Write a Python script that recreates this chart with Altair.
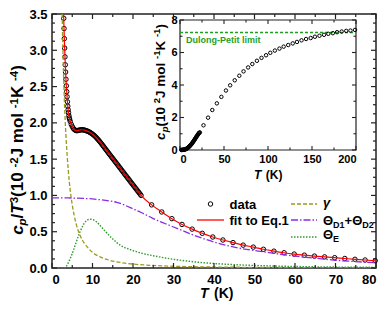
import altair as alt
import pandas as pd

# ---------------- main panel data (c_p/T^3, 10^-2 J mol^-1 K^-4) ----------------
T_dense = [2.90, 2.97, 3.04, 3.12, 3.20, 3.28, 3.36, 3.45, 3.54, 3.63, 3.72, 3.81, 3.90, 3.99,
           4.08, 4.17, 4.26, 4.35,
           4.50, 4.75, 5.00, 5.25, 5.50, 5.75, 6.00, 6.25, 6.50, 6.75, 7.00, 7.25, 7.50, 7.75,
           8.00, 8.25, 8.50, 8.75, 9.00, 9.25, 9.50, 9.75, 10.00, 10.25, 10.50, 10.75, 11.00,
           11.25, 11.50, 11.75, 12.00, 12.25, 12.50, 12.75, 13.00, 13.25, 13.50, 13.75, 14.00,
           14.25, 14.50, 14.75, 15.00, 15.25, 15.50, 15.75, 16.00, 16.25, 16.50, 16.75, 17.00,
           17.25, 17.50, 17.75, 18.00, 18.25, 18.50, 18.75, 19.00, 19.25, 19.50, 19.75, 20.00,
           20.25, 20.50, 20.75, 21.00, 21.25, 21.50, 21.75, 22.00]
v_dense = [3.44, 3.30, 3.16, 3.03, 2.91, 2.80, 2.70, 2.60, 2.51, 2.43, 2.36, 2.29, 2.23, 2.18,
           2.14, 2.10, 2.07, 2.05,
           2.02, 1.98, 1.95, 1.925, 1.908, 1.898, 1.893, 1.893, 1.896, 1.900, 1.903, 1.905, 1.905, 1.903,
           1.900, 1.896, 1.891, 1.886, 1.880, 1.873, 1.864, 1.855, 1.845, 1.834, 1.822, 1.808, 1.793,
           1.778, 1.762, 1.745, 1.728, 1.710, 1.692, 1.674, 1.655, 1.637, 1.618, 1.600, 1.581,
           1.563, 1.545, 1.527, 1.509, 1.491, 1.473, 1.455, 1.437, 1.419, 1.400, 1.382, 1.364,
           1.345, 1.327, 1.309, 1.290, 1.272, 1.254, 1.236, 1.218, 1.199, 1.181, 1.163, 1.145,
           1.127, 1.109, 1.091, 1.073, 1.055, 1.037, 1.019, 1.000]
T_sparse = [24.6, 27.1, 29.6, 32.1, 34.6, 37.1, 39.7, 42.2, 44.7, 47.2, 49.7, 52.2, 54.8, 57.3,
            59.8, 62.3, 64.8, 67.3, 69.8, 72.3, 74.8, 77.3, 79.8]
v_sparse = [0.870, 0.772, 0.680, 0.600, 0.536, 0.478, 0.427, 0.386, 0.350, 0.315, 0.288, 0.258,
            0.232, 0.210, 0.192, 0.177, 0.164, 0.153, 0.142, 0.131, 0.120, 0.110, 0.100]

T_fit = [2.86, 2.97, 3.12, 3.28, 3.45, 3.63, 3.81, 3.99, 4.17, 4.35, 4.5, 4.75, 5.0, 5.5, 6.0, 6.5,
         7.0, 7.5, 8.0, 8.5, 9.0, 9.5, 10, 11, 12, 13, 14, 15, 16, 17, 18, 19, 20, 21, 22,
         24.6, 27.1, 29.6, 32.1, 34.6, 37.1, 39.7, 42.2, 44.7, 47.2, 49.7, 52.2, 54.8, 57.3,
         59.8, 62.3, 64.8, 67.3, 69.8, 72.3, 74.8, 77.3, 80.0]
v_fit = [3.50, 3.30, 3.03, 2.80, 2.60, 2.43, 2.29, 2.18, 2.10, 2.05, 2.02, 1.98, 1.95, 1.908, 1.893, 1.896,
         1.903, 1.905, 1.900, 1.891, 1.880, 1.864, 1.845, 1.793, 1.728, 1.655, 1.581, 1.509, 1.437,
         1.364, 1.290, 1.218, 1.145, 1.073, 1.000,
         0.870, 0.772, 0.680, 0.600, 0.536, 0.478, 0.427, 0.386, 0.350, 0.315, 0.288, 0.258,
         0.232, 0.210, 0.192, 0.177, 0.164, 0.153, 0.142, 0.131, 0.120, 0.110, 0.098]

T_gamma = [2.5, 2.7, 3.0, 3.2, 3.5, 4.0, 4.5, 5.0, 5.5, 6.0, 7.0, 8.0, 9.0, 10, 11, 12, 14, 16,
           18, 20, 25, 30, 40, 50, 60, 70, 80]
v_gamma = [3.50, 3.00, 2.40, 2.10, 1.77, 1.36, 1.07, 0.87, 0.72, 0.60, 0.44, 0.34, 0.27, 0.215,
           0.178, 0.150, 0.110, 0.085, 0.067, 0.054, 0.035, 0.024, 0.0135, 0.0087, 0.006, 0.0044, 0.0034]

T_debye = [0, 2, 4, 6, 8, 10, 12, 14, 16, 18, 20, 22, 24, 26, 28, 30, 32, 34, 36, 38, 40, 42,
           44, 46, 48, 50, 52, 55, 60, 65, 70, 75, 80]
v_debye = [0.965, 0.965, 0.965, 0.962, 0.958, 0.952, 0.940, 0.925, 0.905, 0.865, 0.815, 0.765,
           0.710, 0.655, 0.610, 0.565, 0.520, 0.475, 0.432, 0.393, 0.358, 0.327, 0.300, 0.276,
           0.256, 0.240, 0.225, 0.200, 0.163, 0.135, 0.107, 0.088, 0.072]

T_einst = [0, 3.0, 3.5, 4.0, 4.5, 5.0, 5.5, 6.0, 6.5, 7.0, 7.5, 8.0, 8.5, 9.0, 9.5, 10, 10.5, 11,
           12, 13, 14, 15, 16, 17, 18, 19, 20, 22, 24, 26, 28, 30, 33, 36, 40, 45, 50, 55, 60, 70, 80]
v_einst = [0, 0, 0.02, 0.07, 0.13, 0.20, 0.28, 0.36, 0.44, 0.51, 0.57, 0.62, 0.65, 0.668, 0.672,
           0.668, 0.655, 0.635, 0.580, 0.515, 0.455, 0.400, 0.350, 0.310, 0.280, 0.260, 0.240,
           0.205, 0.180, 0.158, 0.138, 0.120, 0.098, 0.080, 0.062, 0.046, 0.035, 0.027, 0.021,
           0.013, 0.009]

# ---------------- inset data (c_p, 10^2 J mol^-1 K^-1) ----------------
Ti_dense = [1.5, 2.0, 2.5, 3.0, 3.5, 4.0, 4.5, 5.0, 5.5, 6.0, 6.5, 7.0, 7.5, 8.0, 8.5, 9.0, 9.5,
            10, 10.5, 11, 11.5, 12, 12.5, 13, 13.5, 14, 14.5, 15, 15.5, 16, 16.5, 17, 17.5, 18,
            18.5, 19, 19.5, 20, 20.5, 21, 21.5, 22]
ci_dense = [0.001, 0.004, 0.007, 0.009, 0.011, 0.014, 0.018, 0.024, 0.032, 0.041, 0.052, 0.065,
            0.080, 0.097, 0.115, 0.137, 0.160, 0.184, 0.210, 0.237, 0.266, 0.297, 0.330, 0.362,
            0.395, 0.434, 0.470, 0.510, 0.550, 0.590, 0.630, 0.673, 0.716, 0.758, 0.800, 0.843,
            0.880, 0.924, 0.960, 1.000, 1.040, 1.065]
Ti_sparse = [22.6, 26.7, 31.9, 36.7, 41.9, 47.0, 52.2, 57.0, 62.2, 67.4, 72.2, 77.4, 82.2, 87.4,
             92.6, 97.8, 102.6, 107.8, 113.0, 117.8, 123.0, 128.1, 132.9, 138.1, 143.3, 148.5,
             153.3, 158.5, 163.7, 168.5, 173.7, 178.5, 183.7, 188.9, 193.7, 198.9]
ci_sparse = [1.08, 1.52, 1.99, 2.46, 2.87, 3.27, 3.66, 3.98, 4.29, 4.57, 4.84, 5.08, 5.29, 5.49,
             5.67, 5.83, 5.98, 6.12, 6.24, 6.36, 6.46, 6.56, 6.65, 6.75, 6.83, 6.89, 6.97, 7.03,
             7.09, 7.15, 7.19, 7.25, 7.29, 7.33, 7.35, 7.39]
DP_limit = 7.23

# tick positions
x_major = [0, 10, 20, 30, 40, 50, 60, 70, 80]
x_minor = [5, 15, 25, 35, 45, 55, 65, 75]
y_major = [0, 0.5, 1.0, 1.5, 2.0, 2.5, 3.0, 3.5]
y_minor = [i * 0.125 for i in range(29) if i % 4]
xi_major = [0, 50, 100, 150, 200]
xi_minor = [25, 75, 125, 175]
yi_major = [0, 2, 4, 6, 8]
yi_minor = [1, 3, 5, 7]

# ---------------- geometry / styles ----------------
W, H = 324, 254
IL, IR, IT, IB = 128, 304, 6, 136     # inset box in plot pixels
FONT = "Liberation Sans"
AX = "#222222"
RED = "#ff0000"
OLIVE = "#9a9a1e"
PURPLE = "#8a2be2"
GREEN = "#2e9a2e"
DPGREEN = "#1f9e1f"
ONE = pd.DataFrame({"k": [0]})

lab = dict(labelFont=FONT, labelFontWeight="bold", labelColor="black")
xm_axis = alt.Axis(values=x_major, ticks=False, domain=False, grid=False, labelPadding=5,
                   title=None, labelFontSize=13, orient="bottom", **lab)
ym_axis = alt.Axis(values=y_major, format=".1f", ticks=False, domain=False, grid=False,
                   labelPadding=5, title=None, labelFontSize=13, orient="left", **lab)
xsc = alt.Scale(domain=[0, 80], nice=False, zero=False)
ysc = alt.Scale(domain=[0, 3.5], nice=False, zero=False)


def XM(f="T"):
    return alt.X(f + ":Q", scale=xsc, axis=xm_axis)


def YM(f="v"):
    return alt.Y(f + ":Q", scale=ysc, axis=ym_axis)


xi_axis = alt.Axis(values=xi_major, ticks=False, domain=False, grid=False, labelPadding=3,
                   title=None, labelFontSize=11, orient="bottom", offset=-(H - IB), **lab)
yi_axis = alt.Axis(values=yi_major, ticks=False, domain=False, grid=False, labelPadding=3,
                   title=None, labelFontSize=11, orient="left", offset=-IL, **lab)
xisc = alt.Scale(domain=[0, 200], range=[IL, IR], nice=False, zero=False)
yisc = alt.Scale(domain=[0, 8], range=[IB, IT], nice=False, zero=False)


def XI(f="T"):
    return alt.X(f + ":Q", scale=xisc, axis=xi_axis)


def YI(f="c"):
    return alt.Y(f + ":Q", scale=yisc, axis=yi_axis)


WID = {' ': 278, '\u00a0': 278, '(': 333, ')': 333, '/': 278, '-': 333, '+': 584, '.': 278,
       'c': 556, 'p': 611, 'T': 611, 'J': 556, 'm': 889, 'o': 611, 'l': 278, 'K': 722,
       'D': 722, 'E': 667, 'Θ': 778, 'γ': 556, 'd': 611, 'a': 556, 't': 333, 'f': 333,
       'i': 278, 'q': 611}


def text_width(s, size):
    return sum(WID.get(ch, 556) for ch in s) * size / 1000.0


def seg_layers(segs, x0, y0, rotate=False, color="black", weight="bold"):
    out = []
    pos = 0.0
    for seg in segs:
        s, size, italic, shift = seg[:4]
        pos += seg[4] if len(seg) > 4 else 0.0
        if rotate:
            x, y = x0 + shift, y0 - pos
        else:
            x, y = x0 + pos, y0 + shift
        kw = dict(font=FONT, fontSize=size, fontWeight=weight,
                  fontStyle="italic" if italic else "normal", color=color,
                  align="left", baseline="alphabetic")
        if rotate:
            kw["angle"] = 270
        out.append(alt.Chart(ONE).mark_text(**kw).encode(
            text=alt.value(s), x=alt.value(x), y=alt.value(y)))
        pos += text_width(s, size)
    return out


def total(segs):
    return sum(text_width(sg[0], sg[1]) + (sg[4] if len(sg) > 4 else 0) for sg in segs)


# ---------------- main layers ----------------
main_layers = []
main_layers.append(
    alt.Chart(pd.DataFrame({"T": T_dense + T_sparse, "v": v_dense + v_sparse}))
    .mark_point(shape="circle", filled=False, color="black", size=20, strokeWidth=1, opacity=1)
    .encode(x=XM(), y=YM()))


def line(T, v, color, dash=None, width=1.3):
    kw = dict(color=color, strokeWidth=width, interpolate="monotone", clip=True)
    if dash:
        kw["strokeDash"] = dash
    return alt.Chart(pd.DataFrame({"T": T, "v": v})).mark_line(**kw).encode(x=XM(), y=YM())


main_layers.append(line(T_gamma, v_gamma, OLIVE, [4, 2]))
main_layers.append(line(T_debye, v_debye, PURPLE, [7, 2, 1.5, 2]))
main_layers.append(line(T_einst, v_einst, GREEN, [1.5, 1.5], 1.4))
main_layers.append(line(T_fit, v_fit, RED, None, 1.2))

# main ticks (inward, on all four sides)
for vals, L in ((x_major, 5), (x_minor, 3)):
    d = pd.DataFrame({"T": vals})
    main_layers.append(alt.Chart(d).mark_rule(color=AX, strokeWidth=1.2).encode(
        x=XM(), y=alt.value(H), y2=alt.value(H - L)))
    main_layers.append(alt.Chart(d).mark_rule(color=AX, strokeWidth=1.2).encode(
        x=XM(), y=alt.value(0), y2=alt.value(L)))
for vals, L in ((y_major, 5), (y_minor, 3)):
    d = pd.DataFrame({"v": vals})
    main_layers.append(alt.Chart(d).mark_rule(color=AX, strokeWidth=1.2).encode(
        y=YM(), x=alt.value(0), x2=alt.value(L)))
    main_layers.append(alt.Chart(d).mark_rule(color=AX, strokeWidth=1.2).encode(
        y=YM(), x=alt.value(W), x2=alt.value(W - L)))

# main y title
S, s = 17, 11.5
SUP = -5.5
ytitle = [("c", S, True, 0), ("p", s, True, 3.4), ("/", S, False, 0), ("T", S, True, 0),
          ("3", s, False, SUP), (" (10", S, False, 0), ("-2", s, False, SUP),
          (" J mol", S, False, 0), ("-1", s, False, SUP), (" K", S, False, 0),
          ("-4", s, False, SUP), (")", S, False, 0)]
main_layers += seg_layers(ytitle, -29, 136 + total(ytitle) / 2, rotate=True)
# main x title
main_layers += seg_layers([("T", 14, True, 0), ("(K)", 14, False, 0, 5.5)], 148, 284)

# legend
R1, R2, R3 = 190, 206, 223
LX1, LX2, LT1 = 145, 172, 177.5
LX3, LX4, LT2 = 239, 265, 271
main_layers.append(alt.Chart(ONE).mark_point(shape="circle", filled=False, color="black",
                                              size=20, strokeWidth=1, opacity=1).encode(
    x=alt.value((LX1 + LX2) / 2), y=alt.value(R1)))
main_layers.append(alt.Chart(ONE).mark_rule(color=RED, strokeWidth=1.3).encode(
    x=alt.value(LX1), x2=alt.value(LX2), y=alt.value(R2)))
main_layers.append(alt.Chart(ONE).mark_rule(color=OLIVE, strokeWidth=1.3, strokeDash=[4, 2]).encode(
    x=alt.value(LX3), x2=alt.value(LX4), y=alt.value(R1)))
main_layers.append(alt.Chart(ONE).mark_rule(color=PURPLE, strokeWidth=1.3,
                                             strokeDash=[7, 2, 1.5, 2]).encode(
    x=alt.value(LX3), x2=alt.value(LX4), y=alt.value(R2)))
main_layers.append(alt.Chart(ONE).mark_rule(color=GREEN, strokeWidth=1.4,
                                             strokeDash=[1.5, 1.5]).encode(
    x=alt.value(LX3), x2=alt.value(LX4), y=alt.value(R3)))
main_layers += seg_layers([("data", 13, False, 0)], LT1, R1 + 4.5)
main_layers += seg_layers([("fit to Eq.1", 13, False, 0)], LT1, R2 + 4.5)
main_layers += seg_layers([("γ", 13, True, 0)], LT2, R1 + 3)
main_layers += seg_layers([("Θ", 13, False, 0), ("D1", 9, False, 3), ("+", 13, False, 0),
                           ("Θ", 13, False, 0), ("D2", 9, False, 3)], LT2, R2 + 4.5)
main_layers += seg_layers([("Θ", 13, False, 0), ("E", 9, False, 3)], LT2, R3 + 2)

main = alt.layer(*main_layers)

# ---------------- inset layers ----------------
inset_layers = []
inset_layers.append(alt.Chart(pd.DataFrame({"T": [0], "T2": [200], "c": [0], "c2": [8]}))
                    .mark_rect(fill="white", stroke=AX, strokeWidth=1.2)
                    .encode(x=XI(), x2="T2:Q", y=YI(), y2="c2:Q"))
for vals, L in ((xi_major, 4), (xi_minor, 2.5)):
    d = pd.DataFrame({"T": vals})
    inset_layers.append(alt.Chart(d).mark_rule(color=AX, strokeWidth=1.1).encode(
        x=XI(), y=alt.value(IB), y2=alt.value(IB - L)))
    inset_layers.append(alt.Chart(d).mark_rule(color=AX, strokeWidth=1.1).encode(
        x=XI(), y=alt.value(IT), y2=alt.value(IT + L)))
for vals, L in ((yi_major, 4), (yi_minor, 2.5)):
    d = pd.DataFrame({"c": vals})
    inset_layers.append(alt.Chart(d).mark_rule(color=AX, strokeWidth=1.1).encode(
        y=YI(), x=alt.value(IL), x2=alt.value(IL + L)))
    inset_layers.append(alt.Chart(d).mark_rule(color=AX, strokeWidth=1.1).encode(
        y=YI(), x=alt.value(IR), x2=alt.value(IR - L)))
inset_layers.append(alt.Chart(pd.DataFrame({"T": [0, 200], "c": [DP_limit, DP_limit]}))
                    .mark_line(color=DPGREEN, strokeWidth=1.3, strokeDash=[3, 2])
                    .encode(x=XI(), y=YI()))
inset_layers.append(alt.Chart(pd.DataFrame({"T": Ti_dense + Ti_sparse, "c": ci_dense + ci_sparse}))
                    .mark_point(shape="circle", filled=False, color="black", size=12,
                                strokeWidth=1, opacity=1)
                    .encode(x=XI(), y=YI()))
inset_layers += seg_layers([("Dulong-Petit limit", 9, False, 0)], IL + 6, 29, color=DPGREEN)
S2, s2 = 13.5, 9.5
ititle = [("c", S2, True, 0), ("p", s2, True, 3), (" (10", S2, False, 0), ("2", s2, False, -5.2),
          (" J mol", S2, False, 0), ("-1", s2, False, -5.2), (" K", S2, False, 0),
          ("-1", s2, False, -5.2), (")", S2, False, 0)]
inset_layers += seg_layers(ititle, IL - 15, 68 + total(ititle) / 2, rotate=True)
inset_layers += seg_layers([("T", 12, True, 0), ("(K)", 12, False, 0, 4.5)],
                           (IL + IR) / 2 - 14, 165)

inset = alt.layer(*inset_layers)

chart = (alt.layer(main, inset)
         .resolve_scale(x="independent", y="independent")
         .resolve_axis(x="independent", y="independent")
         .properties(width=W, height=H,
                     padding={"left": 44, "top": 6, "right": 7, "bottom": 33},
                     autosize=alt.AutoSizeParams(type="none"))
         .configure_view(stroke=AX, strokeWidth=1.5))

chart.save("out.html", embed_options={"renderer": "svg", "actions": False})
